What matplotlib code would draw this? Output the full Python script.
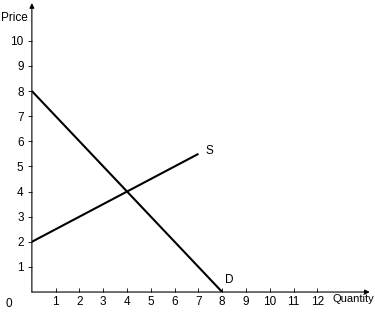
import numpy as np
import matplotlib
matplotlib.use("Agg")
import matplotlib.pyplot as plt

plt.rcParams['font.family'] = ['Liberation Sans', 'DejaVu Sans']

# curves
supply_q = [0, 7]
supply_p = [2, 5.5]
demand_q = [0, 8]
demand_p = [8, 0]
x_ticks = list(range(1, 13))
y_ticks = list(range(1, 11))

fig = plt.figure(figsize=(3.75, 3.12), dpi=100)
ax = fig.add_axes([0.085, 0.064, 0.901, 0.926])
xmax, ymax = 14.2, 11.5
ax.set_xlim(0, xmax)
ax.set_ylim(0, ymax)

ax.plot(supply_q, supply_p, color='black', lw=1.5, solid_capstyle='butt')
ax.plot(demand_q, demand_p, color='black', lw=1.5, solid_capstyle='butt')
ax.text(7.3, 5.6, 'S', fontsize=8.5, ha='left', va='center')
ax.text(8.1, 0.25, 'D', fontsize=8.5, ha='left', va='bottom')

for s in ['top', 'right', 'left', 'bottom']:
    ax.spines[s].set_visible(False)

# axes with arrows
ax.annotate('', xy=(xmax, 0), xytext=(0, 0), annotation_clip=False,
            arrowprops=dict(arrowstyle='-|>', color='black', lw=0.8,
                            mutation_scale=7, shrinkA=0, shrinkB=0))
ax.annotate('', xy=(0, ymax), xytext=(0, 0), annotation_clip=False,
            arrowprops=dict(arrowstyle='-|>', color='black', lw=0.8,
                            mutation_scale=7, shrinkA=0, shrinkB=0))

ax.set_xticks(x_ticks)
ax.set_yticks(y_ticks)
ax.tick_params(axis='x', direction='in', length=3, width=0.6, labelsize=8.5, pad=3)
ax.tick_params(axis='y', direction='out', length=3, width=0.6, labelsize=8.5, pad=3)

ax.text(-0.95, -0.25, '0', fontsize=8.5, ha='center', va='top')
fig.text(0.003, 1 - 18 / 312, 'Price', fontsize=8.5, ha='left', va='center')
fig.text(0.999, 1 - 299 / 312, 'Quantity', fontsize=8, ha='right', va='center')

fig.savefig('out.png', dpi=100)
